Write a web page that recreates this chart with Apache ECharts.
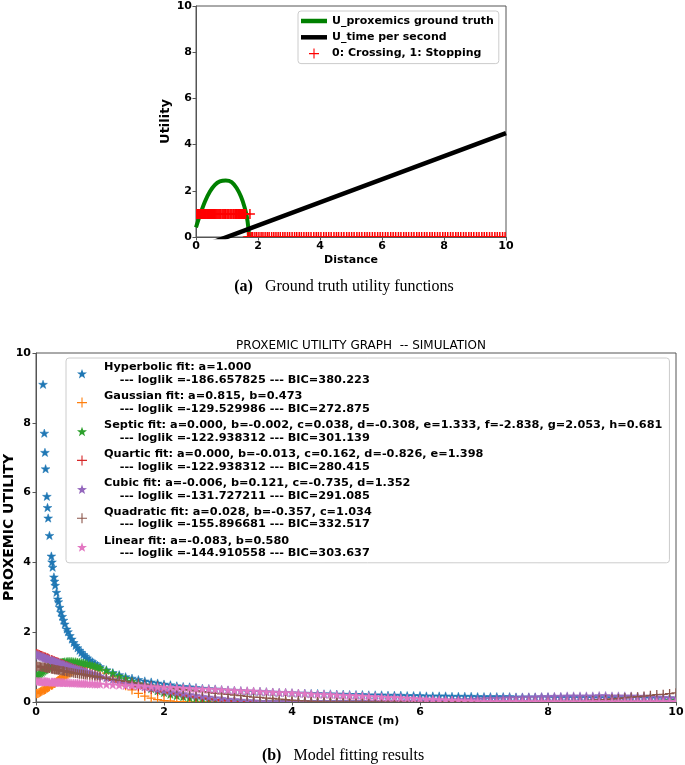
<!DOCTYPE html>
<html>
<head>
<meta charset="utf-8">
<script src="https://cdn.jsdelivr.net/npm/echarts@6/dist/echarts.min.js"></script>
<style>
  html, body { margin: 0; padding: 0; background: #fff; }
  #chart { width: 685px; height: 765px; }
</style>
</head>
<body>
<div id="chart"></div>
<script>
// ---- (a) ground truth ----
const truthX = [0, 0.13, 0.29, 0.45, 0.61, 0.77, 0.96, 1.15, 1.31, 1.45, 1.56, 1.64, 1.69, 1.71];
const truthY = [0.42, 0.96, 1.54, 1.97, 2.26, 2.41, 2.45, 2.38, 2.12, 1.75, 1.32, 0.88, 0.38, 0.0];
const timeX = [0, 10];
const timeY = [-0.5, 4.5];
// distances of the observed decisions (1 = stopping, 0 = crossing)
const stoppingX = [0.00, 0.03, 0.05, 0.08, 0.10, 0.13, 0.16, 0.18, 0.21, 0.24, 0.27, 0.30, 0.33, 0.36, 0.38, 0.41,
  0.44, 0.47, 0.50, 0.53, 0.56, 0.59, 0.62, 0.65, 0.68, 0.71, 0.74, 0.77, 0.80, 0.84, 0.87, 0.90, 0.93, 0.96,
  1.00, 1.03, 1.06, 1.10, 1.13, 1.16, 1.20, 1.23, 1.27, 1.30, 1.33, 1.37, 1.40, 1.44, 1.47, 1.50, 1.53, 1.57,
  1.60, 1.74];
const crossingX = [1.67, 1.72, 1.78, 1.83, 1.9, 1.96, 2.03, 2.1, 2.16, 2.23, 2.3, 2.36, 2.44, 2.51, 2.58, 2.65,
  2.72, 2.8, 2.87, 2.95, 3.02, 3.1, 3.18, 3.25, 3.33, 3.4, 3.48, 3.56, 3.63, 3.71, 3.8, 3.88, 3.95, 4.03, 4.12,
  4.2, 4.28, 4.36, 4.45, 4.53, 4.6, 4.69, 4.77, 4.86, 4.94, 5.02, 5.1, 5.19, 5.27, 5.35, 5.44, 5.52, 5.6, 5.69,
  5.77, 5.86, 5.94, 6.02, 6.11, 6.19, 6.28, 6.36, 6.44, 6.53, 6.61, 6.7, 6.78, 6.86, 6.95, 7.03, 7.12, 7.2,
  7.28, 7.37, 7.45, 7.54, 7.62, 7.7, 7.79, 7.87, 7.96, 8.04, 8.12, 8.21, 8.29, 8.38, 8.46, 8.54, 8.63, 8.71,
  8.8, 8.88, 8.96, 9.05, 9.13, 9.22, 9.3, 9.38, 9.47, 9.55, 9.64, 9.72, 9.8, 9.89, 9.97];

// ---- (b) model fits ----
const distance = [0.01, 0.03, 0.05, 0.07, 0.09, 0.11, 0.13, 0.14, 0.15, 0.17,
  0.18, 0.19, 0.21, 0.24, 0.25, 0.26, 0.28, 0.29, 0.30, 0.32,
  0.34, 0.35, 0.37, 0.39, 0.41, 0.43, 0.45, 0.48, 0.50, 0.53,
  0.56, 0.59, 0.62, 0.65, 0.68, 0.71, 0.74, 0.77, 0.80, 0.84,
  0.88, 0.92, 0.96, 1.00,
  1.1, 1.2, 1.3, 1.4, 1.5, 1.6, 1.7, 1.8, 1.9, 2.0,
  2.1, 2.2, 2.3, 2.4, 2.5, 2.6, 2.7, 2.8, 2.9, 3.0,
  3.1, 3.2, 3.3, 3.4, 3.5, 3.6, 3.7, 3.8, 3.9, 4.0,
  4.1, 4.2, 4.3, 4.4, 4.5, 4.6, 4.7, 4.8, 4.9, 5.0,
  5.1, 5.2, 5.3, 5.4, 5.5, 5.6, 5.7, 5.8, 5.9, 6.0,
  6.1, 6.2, 6.3, 6.4, 6.5, 6.6, 6.7, 6.8, 6.9, 7.0,
  7.1, 7.2, 7.3, 7.4, 7.5, 7.6, 7.7, 7.8, 7.9, 8.0,
  8.1, 8.2, 8.3, 8.4, 8.5, 8.6, 8.7, 8.8, 8.9, 9.0,
  9.1, 9.2, 9.3, 9.4, 9.5, 9.6, 9.7, 9.8, 9.9, 10.0];

const hyperbolic = [100, 33.3, 20, 14.3, 11.1, 9.09, 7.69, 7.14, 6.67, 5.88,
  5.56, 5.26, 4.76, 4.17, 4.0, 3.85, 3.57, 3.45, 3.33, 3.13,
  2.94, 2.86, 2.70, 2.56, 2.44, 2.33, 2.22, 2.08, 2.0, 1.89,
  1.79, 1.69, 1.61, 1.54, 1.47, 1.41, 1.35, 1.30, 1.25, 1.19,
  1.14, 1.09, 1.04, 1.0,
  0.91, 0.83, 0.77, 0.71, 0.67, 0.63, 0.59, 0.56, 0.53, 0.50,
  0.48, 0.45, 0.43, 0.42, 0.40, 0.38, 0.37, 0.36, 0.34, 0.33,
  0.32, 0.31, 0.30, 0.29, 0.29, 0.28, 0.27, 0.26, 0.26, 0.25,
  0.24, 0.24, 0.23, 0.23, 0.22, 0.22, 0.21, 0.21, 0.20, 0.20,
  0.20, 0.19, 0.19, 0.19, 0.18, 0.18, 0.18, 0.17, 0.17, 0.17,
  0.16, 0.16, 0.16, 0.16, 0.15, 0.15, 0.15, 0.15, 0.14, 0.14,
  0.14, 0.14, 0.14, 0.14, 0.13, 0.13, 0.13, 0.13, 0.13, 0.13,
  0.12, 0.12, 0.12, 0.12, 0.12, 0.12, 0.11, 0.11, 0.11, 0.11,
  0.11, 0.11, 0.11, 0.11, 0.11, 0.10, 0.10, 0.10, 0.10, 0.10];

const gaussian = [0.24, 0.25, 0.27, 0.29, 0.31, 0.33, 0.35, 0.36, 0.37, 0.40,
  0.41, 0.42, 0.44, 0.48, 0.49, 0.50, 0.53, 0.54, 0.55, 0.58,
  0.60, 0.62, 0.64, 0.67, 0.69, 0.72, 0.74, 0.78, 0.80, 0.83,
  0.87, 0.89, 0.92, 0.94, 0.96, 0.98, 0.99, 1.0, 1.0, 1.0,
  0.99, 0.98, 0.95, 0.93,
  0.83, 0.72, 0.59, 0.47, 0.35, 0.25, 0.17, 0.11, 0.07, 0.04,
  0.03, 0.01, 0.01, 0, 0, 0, 0, 0, 0, 0,
  0, 0, 0, 0, 0, 0, 0, 0, 0, 0,
  0, 0, 0, 0, 0, 0, 0, 0, 0, 0,
  0, 0, 0, 0, 0, 0, 0, 0, 0, 0,
  0, 0, 0, 0, 0, 0, 0, 0, 0, 0,
  0, 0, 0, 0, 0, 0, 0, 0, 0, 0,
  0, 0, 0, 0, 0, 0, 0, 0, 0, 0,
  0, 0, 0, 0, 0, 0, 0, 0, 0, 0];

const septic = [0.70, 0.74, 0.78, 0.81, 0.84, 0.87, 0.90, 0.92, 0.93, 0.95,
  0.97, 0.98, 1.00, 1.03, 1.04, 1.05, 1.06, 1.07, 1.08, 1.09,
  1.10, 1.11, 1.11, 1.12, 1.13, 1.13, 1.14, 1.14, 1.15, 1.15,
  1.15, 1.14, 1.14, 1.13, 1.12, 1.11, 1.10, 1.09, 1.08, 1.06,
  1.03, 1.01, 0.98, 0.96,
  0.89, 0.81, 0.73, 0.66, 0.58, 0.51, 0.44, 0.37, 0.31, 0.26,
  0.21, 0.17, 0.14, 0.11, 0.09, 0.07, 0.05, 0.04, 0.03, 0.02,
  0.01, 0.01, 0, 0, 0, 0, 0, 0, 0, 0,
  0, 0, 0, 0, 0, 0, 0, 0, 0, 0,
  0, 0, 0, 0, 0, 0, 0, 0, 0, 0,
  0, 0, 0, 0, 0, 0, 0, 0, 0, 0,
  0, 0, 0, 0, 0, 0, 0, 0, 0, 0,
  0, 0, 0, 0, 0, 0, 0, 0, 0, 0,
  0, 0, 0, 0, 0, 0, 0.01, 0.02, 0.03, 0.04];

const quartic = [1.39, 1.37, 1.36, 1.34, 1.33, 1.31, 1.29, 1.29, 1.28, 1.26,
  1.26, 1.25, 1.23, 1.21, 1.20, 1.19, 1.18, 1.17, 1.16, 1.15,
  1.14, 1.13, 1.11, 1.10, 1.09, 1.07, 1.06, 1.04, 1.02, 1.00,
  0.98, 0.96, 0.95, 0.93, 0.91, 0.89, 0.87, 0.85, 0.83, 0.81,
  0.79, 0.77, 0.74, 0.72,
  0.67, 0.62, 0.57, 0.52, 0.48, 0.44, 0.40, 0.36, 0.32, 0.29,
  0.26, 0.23, 0.20, 0.17, 0.14, 0.12, 0.09, 0.07, 0.05, 0.03,
  0.01, 0, 0, 0, 0, 0, 0, 0, 0, 0,
  0, 0, 0, 0, 0, 0, 0, 0, 0, 0,
  0, 0, 0, 0, 0, 0, 0, 0, 0, 0,
  0, 0, 0, 0, 0, 0, 0, 0, 0, 0,
  0, 0, 0, 0, 0, 0, 0, 0, 0, 0,
  0, 0, 0, 0, 0, 0, 0, 0, 0, 0,
  0, 0, 0, 0, 0, 0, 0, 0, 0, 0];

const cubic = [1.35, 1.33, 1.32, 1.30, 1.29, 1.27, 1.26, 1.25, 1.24, 1.23,
  1.22, 1.22, 1.20, 1.18, 1.18, 1.17, 1.16, 1.15, 1.14, 1.13,
  1.12, 1.11, 1.10, 1.08, 1.07, 1.06, 1.05, 1.03, 1.01, 1.00,
  0.98, 0.96, 0.94, 0.92, 0.91, 0.89, 0.87, 0.86, 0.84, 0.82,
  0.80, 0.77, 0.75, 0.73,
  0.68, 0.63, 0.59, 0.54, 0.50, 0.46, 0.42, 0.39, 0.35, 0.32,
  0.29, 0.26, 0.23, 0.20, 0.18, 0.15, 0.13, 0.11, 0.09, 0.07,
  0.06, 0.04, 0.03, 0.02, 0, 0, 0, 0, 0, 0,
  0, 0, 0, 0, 0, 0, 0, 0, 0, 0,
  0, 0, 0, 0, 0, 0, 0, 0, 0, 0,
  0.01, 0.02, 0.02, 0.03, 0.04, 0.05, 0.05, 0.06, 0.07, 0.08,
  0.09, 0.09, 0.10, 0.11, 0.11, 0.12, 0.13, 0.13, 0.14, 0.14,
  0.15, 0.15, 0.16, 0.16, 0.16, 0.16, 0.16, 0.17, 0.17, 0.16,
  0.16, 0.16, 0.16, 0.15, 0.15, 0.14, 0.13, 0.12, 0.11, 0.10];

const quadratic = [1.03, 1.02, 1.02, 1.01, 1.00, 1.00, 0.99, 0.99, 0.98, 0.97,
  0.97, 0.97, 0.96, 0.95, 0.95, 0.94, 0.94, 0.93, 0.93, 0.92,
  0.92, 0.91, 0.91, 0.90, 0.89, 0.89, 0.88, 0.87, 0.86, 0.85,
  0.84, 0.83, 0.82, 0.81, 0.80, 0.80, 0.79, 0.78, 0.77, 0.75,
  0.74, 0.73, 0.72, 0.71,
  0.68, 0.65, 0.62, 0.59, 0.56, 0.54, 0.51, 0.48, 0.46, 0.43,
  0.41, 0.38, 0.36, 0.34, 0.32, 0.30, 0.27, 0.25, 0.23, 0.22,
  0.20, 0.18, 0.16, 0.14, 0.13, 0.11, 0.10, 0.08, 0.07, 0.05,
  0.04, 0.03, 0.02, 0.01, 0, 0, 0, 0, 0, 0,
  0, 0, 0, 0, 0, 0, 0, 0, 0, 0,
  0, 0, 0, 0, 0, 0, 0, 0, 0, 0,
  0, 0, 0, 0, 0, 0, 0, 0, 0, 0,
  0, 0, 0, 0.01, 0.02, 0.03, 0.05, 0.06, 0.07, 0.09,
  0.10, 0.12, 0.14, 0.15, 0.17, 0.19, 0.21, 0.22, 0.24, 0.26];

const linear = [0.58, 0.58, 0.58, 0.57, 0.57, 0.57, 0.57, 0.57, 0.57, 0.57,
  0.56, 0.56, 0.56, 0.56, 0.56, 0.56, 0.56, 0.56, 0.55, 0.55,
  0.55, 0.55, 0.55, 0.55, 0.55, 0.54, 0.54, 0.54, 0.54, 0.54,
  0.53, 0.53, 0.53, 0.53, 0.52, 0.52, 0.52, 0.52, 0.51, 0.51,
  0.51, 0.50, 0.50, 0.50,
  0.49, 0.48, 0.47, 0.46, 0.46, 0.45, 0.44, 0.43, 0.42, 0.41,
  0.41, 0.40, 0.39, 0.38, 0.37, 0.36, 0.36, 0.35, 0.34, 0.33,
  0.32, 0.31, 0.31, 0.30, 0.29, 0.28, 0.27, 0.26, 0.26, 0.25,
  0.24, 0.23, 0.22, 0.21, 0.21, 0.20, 0.19, 0.18, 0.17, 0.17,
  0.16, 0.15, 0.14, 0.13, 0.12, 0.12, 0.11, 0.10, 0.09, 0.08,
  0.07, 0.07, 0.06, 0.05, 0.04, 0.03, 0.02, 0.02, 0.01, 0,
  0, 0, 0, 0, 0, 0, 0, 0, 0, 0,
  0, 0, 0, 0, 0, 0, 0, 0, 0, 0,
  0, 0, 0, 0, 0, 0, 0, 0, 0, 0];

const fitNames = ['Hyperbolic', 'Gaussian', 'Septic', 'Quartic', 'Cubic', 'Quadratic', 'Linear'];
const fitParams = ['a=1.000', 'a=0.815, b=0.473',
  'a=0.000, b=-0.002, c=0.038, d=-0.308, e=1.333, f=-2.838, g=2.053, h=0.681',
  'a=0.000, b=-0.013, c=0.162, d=-0.826, e=1.398', 'a=-0.006, b=0.121, c=-0.735, d=1.352',
  'a=0.028, b=-0.357, c=1.034', 'a=-0.083, b=0.580'];
const fitLoglik = ['-186.657825', '-129.529986', '-122.938312', '-122.938312', '-131.727211', '-155.896681', '-144.910558'];
const fitBIC = ['380.223', '272.875', '301.139', '280.415', '291.085', '332.517', '303.637'];
const fitValues = [hyperbolic, gaussian, septic, quartic, cubic, quadratic, linear];
const fitColors = ['#1f77b4', '#ff7f0e', '#2ca02c', '#d62728', '#9467bd', '#8c564b', '#e377c2'];
const fitMarkers = ['star', 'plus', 'star', 'plus', 'star', 'plus', 'star'];

// marker shapes
const STAR = [[0, -1], [0.235, -0.324], [0.951, -0.309], [0.38, 0.124], [0.588, 0.809],
  [0, 0.4], [-0.588, 0.809], [-0.38, 0.124], [-0.951, -0.309], [-0.235, -0.324]];
const STAR_ICON = 'path://M5,0L6.18,3.38L9.76,3.45L6.9,5.62L7.94,9.05L5,7L2.06,9.05L3.1,5.62L0.24,3.45L3.82,3.38Z';
const PLUS_ICON = 'path://M4.45,0H5.55V4.45H10V5.55H5.55V10H4.45V5.55H0V4.45H4.45Z';
const LINE_ICON = 'path://M0,0H26V4.5H0Z';

function markerSeries(name, xs, ys, color, kind, size, width, grid) {
  return {
    type: 'custom',
    name: name,
    xAxisIndex: grid,
    yAxisIndex: grid,
    clip: true,
    silent: true,
    itemStyle: { color: color },
    encode: { x: 0, y: 1 },
    data: xs.map((x, i) => [x, ys[i]]),
    renderItem: function (params, api) {
      const p = api.coord([api.value(0), api.value(1)]);
      if (kind === 'star') {
        return {
          type: 'polygon',
          shape: { points: STAR.map(s => [p[0] + s[0] * size, p[1] + s[1] * size]) },
          style: { fill: color, stroke: color, lineWidth: 0.5 }
        };
      }
      return {
        type: 'path',
        shape: { pathData: 'M' + (p[0] - size) + ',' + p[1] + 'H' + (p[0] + size) +
          'M' + p[0] + ',' + (p[1] - size) + 'V' + (p[1] + size) },
        style: { fill: 'none', stroke: color, lineWidth: width }
      };
    }
  };
}

function valueAxis(grid, name, nameGap, labelMargin, nameSize) {
  return {
    type: 'value', gridIndex: grid, min: 0, max: 10, interval: 2,
    name: name, nameLocation: 'middle', nameGap: nameGap, nameMoveOverlap: false,
    nameTextStyle: { fontSize: nameSize, fontWeight: 'bold', color: '#000', fontFamily: 'DejaVu Sans' },
    axisLine: { show: true, lineStyle: { color: '#555', width: 1 } },
    axisTick: { show: true, length: 3.5, lineStyle: { color: '#555' } },
    axisLabel: { margin: labelMargin, fontSize: 11, fontWeight: 'bold', color: '#000', fontFamily: 'DejaVu Sans' },
    splitLine: { show: false }
  };
}

const chart = echarts.init(document.getElementById('chart'), null, { renderer: 'canvas' });

const series = [
  {
    type: 'line', name: 'U_proxemics ground truth', xAxisIndex: 0, yAxisIndex: 0,
    data: truthX.map((x, i) => [x, truthY[i]]), smooth: 0.3, showSymbol: false, symbol: 'none',
    clip: true, color: '#008000', lineStyle: { color: '#008000', width: 4 }, z: 3
  },
  {
    type: 'line', name: 'U_time per second', xAxisIndex: 0, yAxisIndex: 0,
    data: timeX.map((x, i) => [x, timeY[i]]), showSymbol: false, symbol: 'none',
    clip: true, color: '#000', lineStyle: { color: '#000', width: 4.5 }, z: 3
  },
  Object.assign(markerSeries('0: Crossing, 1: Stopping', stoppingX.concat(crossingX),
    stoppingX.map(() => 1).concat(crossingX.map(() => 0)), '#ff0000', 'plus', 5, 1.5, 0), { z: 4 })
];
fitNames.forEach((n, k) => {
  series.push(markerSeries(n, distance, fitValues[k], fitColors[k], fitMarkers[k], 4.6, 1.3, 1));
});

const captionStyle = {
  fontSize: 16, fontWeight: 'normal', color: '#000', fontFamily: 'Liberation Serif',
  rich: { b: { fontSize: 16, fontWeight: 'bold', fontFamily: 'Liberation Serif', color: '#000' } }
};

const option = {
  animation: false,
  textStyle: { fontFamily: 'DejaVu Sans' },
  title: [
    {
      text: 'PROXEMIC UTILITY GRAPH  -- SIMULATION', left: 356, top: 335, textAlign: 'center',
      textStyle: { fontSize: 12, fontWeight: 'normal', color: '#000', fontFamily: 'DejaVu Sans' }
    },
    { text: '{b|(a)}   Ground truth utility functions', left: 339, top: 274, textAlign: 'center', textStyle: captionStyle },
    { text: '{b|(b)}   Model fitting results', left: 338, top: 743, textAlign: 'center', textStyle: captionStyle }
  ],
  grid: [
    { left: 196, right: 179, top: 6, bottom: 528, show: true, borderColor: '#555', borderWidth: 1, outerBoundsMode: 'none', containLabel: false },
    { left: 36, right: 9, top: 353, bottom: 63, show: true, borderColor: '#555', borderWidth: 1, outerBoundsMode: 'none', containLabel: false }
  ],
  xAxis: [valueAxis(0, 'Distance', 18, 4, 11), valueAxis(1, 'DISTANCE (m)', 14, 5, 11)],
  yAxis: [valueAxis(0, 'Utility', 24, 4, 13), valueAxis(1, 'PROXEMIC UTILITY', 20, 5, 14)],
  legend: [
    {
      left: 298, top: 11, orient: 'vertical', selectedMode: false,
      padding: [3, 5, 3, 3], itemGap: 2.3, itemWidth: 26, itemHeight: 10,
      backgroundColor: 'rgba(255,255,255,0.8)', borderColor: '#ccc', borderWidth: 1, borderRadius: 3,
      textStyle: { fontSize: 11, fontWeight: 'bold', color: '#000', lineHeight: 14, fontFamily: 'DejaVu Sans' },
      data: [
        { name: 'U_proxemics ground truth', icon: LINE_ICON },
        { name: 'U_time per second', icon: LINE_ICON },
        { name: '0: Crossing, 1: Stopping', icon: PLUS_ICON }
      ]
    },
    {
      left: 66, top: 358, orient: 'vertical', selectedMode: false,
      padding: [3, 7, 3, 11], itemGap: 3.5, itemWidth: 10, itemHeight: 10,
      backgroundColor: 'rgba(255,255,255,0.8)', borderColor: '#ccc', borderWidth: 1, borderRadius: 3,
      textStyle: { fontSize: 11.3, fontWeight: 'bold', color: '#000', lineHeight: 12.7, padding: [0, 0, 0, 12], fontFamily: 'DejaVu Sans' },
      data: fitNames.map((n, k) => ({ name: n, icon: fitMarkers[k] === 'star' ? STAR_ICON : PLUS_ICON })),
      formatter: function (name) {
        const k = fitNames.indexOf(name);
        return name + ' fit: ' + fitParams[k] + '\n    --- loglik =' + fitLoglik[k] + ' --- BIC=' + fitBIC[k];
      }
    }
  ],
  series: series
};

chart.setOption(option);
</script>
</body>
</html>
